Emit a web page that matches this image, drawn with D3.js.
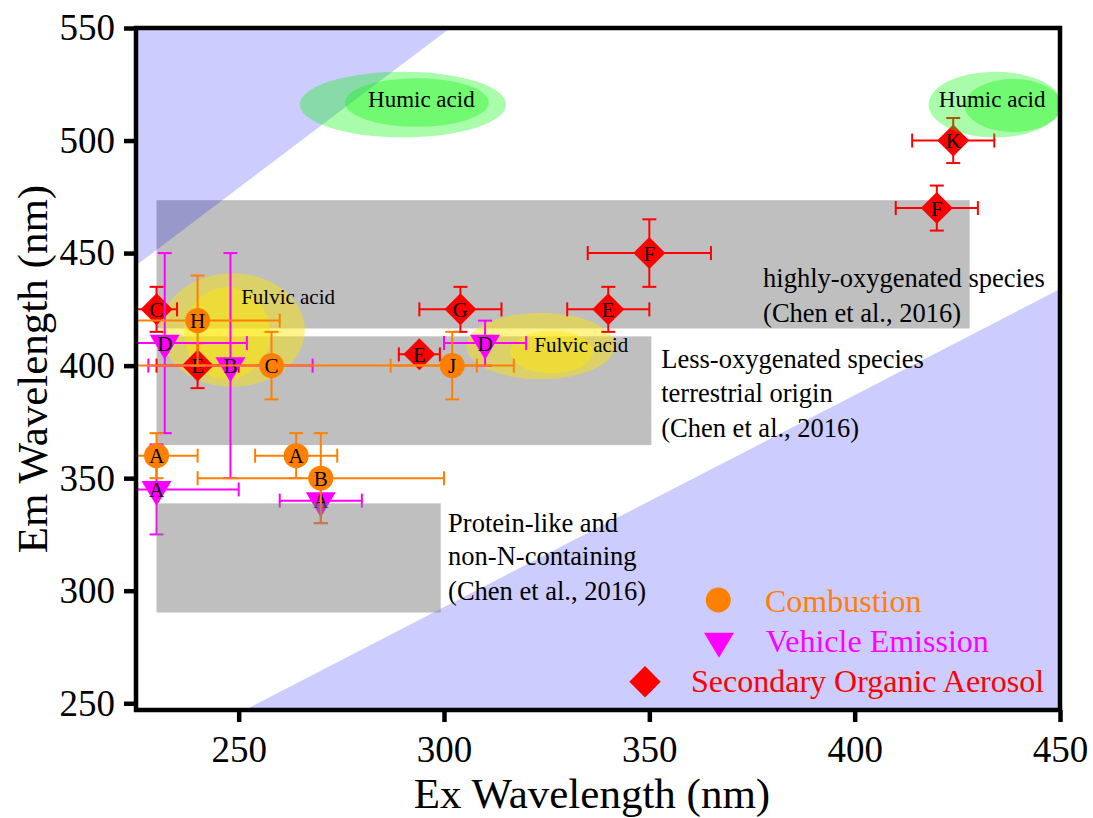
<!DOCTYPE html>
<html>
<head>
<meta charset="utf-8">
<script src="https://cdn.jsdelivr.net/npm/d3@7"></script>
<style>
  html, body { margin: 0; padding: 0; background: #fff; }
  svg { display: block; font-family: "Liberation Serif", "Times New Roman", serif; }
  svg text { font-family: "Liberation Serif", "Times New Roman", serif; }
</style>
</head>
<body>
<svg id="chart" width="1093" height="818"></svg>
<script>
// ---------------- data ----------------
const xDomain = [225, 450];
const yDomain = [247, 550];
const xTickValues = [250, 300, 350, 400, 450];
const yTickValues = [250, 300, 350, 400, 450, 500, 550];
const xTitle = "Ex Wavelength (nm)";
const yTitle = "Em Wavelength (nm)";

// each point: label, Ex, Em, Ex error, Em error
const combustion = [
  { label: "A", ex: 230, em: 360, exErr: 10, emErr: 10 },
  { label: "A", ex: 264, em: 360, exErr: 10, emErr: 10 },
  { label: "B", ex: 270, em: 350, exErr: 30, emErr: 20 },
  { label: "C", ex: 258, em: 400, exErr: 50, emErr: 15 },
  { label: "H", ex: 240, em: 420, exErr: 20, emErr: 20 },
  { label: "J", ex: 302, em: 400, exErr: 15, emErr: 15 }
];
const vehicle = [
  { label: "A", ex: 230, em: 345, exErr: 20, emErr: 20 },
  { label: "A", ex: 270, em: 340, exErr: 10, emErr: 10 },
  { label: "B", ex: 248, em: 400, exErr: 20, emErr: 50 },
  { label: "D", ex: 232, em: 410, exErr: 20, emErr: 40 },
  { label: "D", ex: 310, em: 410, exErr: 10, emErr: 10 }
];
const soa = [
  { label: "C", ex: 230, em: 425, exErr: 5, emErr: 10 },
  { label: "E", ex: 240, em: 400, exErr: 10, emErr: 10 },
  { label: "E", ex: 294, em: 405, exErr: 5, emErr: 2 },
  { label: "G", ex: 304, em: 425, exErr: 10, emErr: 10 },
  { label: "E", ex: 340, em: 425, exErr: 10, emErr: 10 },
  { label: "F", ex: 350, em: 450, exErr: 15, emErr: 15 },
  { label: "F", ex: 420, em: 470, exErr: 10, emErr: 10 },
  { label: "K", ex: 424, em: 500, exErr: 10, emErr: 10 }
];
const seriesNames = ["Combustion", "Vehicle Emission", "Secondary Organic Aerosol"];

// regions (Ex range, Em range)
const regionHighOx = { x0: 230, x1: 428, y0: 416.5, y1: 473.5 };
const regionLessOx = { x0: 230, x1: 350.5, y0: 364.7, y1: 413 };
const regionProtein = { x0: 230, x1: 299.2, y0: 290.3, y1: 338.8 };
const scatterUpper = [[225, 550], [301.5, 550], [225, 444.5]];
const scatterLower = [[251.5, 247], [450, 247], [450, 434]];

// ellipses: centre Ex, Em and radii in data units
const fulvicEllipses = [
  { cx: 248.5, cy: 415.8, rx: 17.6, ry: 25.2 },
  { cx: 247.2, cy: 414.4, rx: 10.5, ry: 20.4 },
  { cx: 323.5, cy: 408.7, rx: 18.1, ry: 14.8 },
  { cx: 326.2, cy: 406.0, rx: 10.1, ry: 9.5 }
];
const humicEllipses = [
  { cx: 290.0, cy: 516.0, rx: 25.1, ry: 14.6 },
  { cx: 293.4, cy: 516.9, rx: 17.5, ry: 10.8 },
  { cx: 434.2, cy: 516.0, rx: 16.2, ry: 14.6 },
  { cx: 438.6, cy: 515.6, rx: 11.8, ry: 11.8 }
];

// annotation texts (anchor in data units)
const ellipseLabels = [
  { text: "Humic acid", ex: 281.5, em: 515.0, size: 23 },
  { text: "Humic acid", ex: 420.5, em: 515.0, size: 23 },
  { text: "Fulvic acid", ex: 250.6, em: 427.3, size: 21 },
  { text: "Fulvic acid", ex: 322.0, em: 406.1, size: 21 }
];
const regionLabels = [
  { lines: ["highly-oxygenated species", "(Chen et al., 2016)"], ex: 377.7, em: [435.0, 419.5] },
  { lines: ["Less-oxygenated species", "terrestrial origin", "(Chen et al., 2016)"], ex: 352.9, em: [398.8, 384.0, 368.4] },
  { lines: ["Protein-like and", "non-N-containing", "(Chen et al., 2016)"], ex: 301.0, em: [326.2, 311.4, 295.8] }
];

// ---------------- drawing ----------------
const W = 1093, H = 818;
const margin = { left: 136, right: 33, top: 28, bottom: 108 };
const svg = d3.select("#chart");
const x = d3.scaleLinear().domain(xDomain).range([margin.left, W - margin.right]);
const y = d3.scaleLinear().domain(yDomain).range([H - margin.bottom, margin.top]);

const colors = { Combustion: "#ff8000", "Vehicle Emission": "#ff00ff", "Secondary Organic Aerosol": "#ff0000" };
const gray = "rgba(128,128,128,0.5)";
const blue = "rgba(0,0,255,0.2)";
const yellow = "rgba(255,230,0,0.45)";
const green = "rgba(10,245,10,0.35)";

svg.append("defs").append("clipPath").attr("id", "plotClip")
  .append("rect")
  .attr("x", x(xDomain[0])).attr("y", y(yDomain[1]))
  .attr("width", x(xDomain[1]) - x(xDomain[0]))
  .attr("height", y(yDomain[0]) - y(yDomain[1]));

const plot = svg.append("g").attr("clip-path", "url(#plotClip)");

function drawRegion(g, r) {
  g.append("rect")
    .attr("x", x(r.x0)).attr("y", y(r.y1))
    .attr("width", x(r.x1) - x(r.x0)).attr("height", y(r.y0) - y(r.y1))
    .attr("fill", gray);
}
drawRegion(plot, regionHighOx);
drawRegion(plot, regionLessOx);

const line = d3.line().x(d => x(d[0])).y(d => y(d[1]));
[scatterUpper, scatterLower].forEach(poly => {
  plot.append("path").attr("d", line(poly) + "Z").attr("fill", blue);
});

function drawEllipses(g, arr, fill) {
  g.selectAll(null).data(arr).enter().append("ellipse")
    .attr("cx", d => x(d.cx)).attr("cy", d => y(d.cy))
    .attr("rx", d => x(d.cx + d.rx) - x(d.cx))
    .attr("ry", d => y(d.cy - d.ry) - y(d.cy))
    .attr("fill", fill);
}
drawEllipses(plot, fulvicEllipses, yellow);

// markers
const circleSym = d3.symbol().type(d3.symbolCircle).size(Math.PI * 12.5 * 12.5);
function triPath(cx, cy) {
  // downward triangle, centroid at (cx, cy): width 30, height 25
  return `M${cx - 15},${cy - 8.33}L${cx + 15},${cy - 8.33}L${cx},${cy + 16.67}Z`;
}
function diamondPath(cx, cy, h) {
  return `M${cx},${cy - h}L${cx + h},${cy}L${cx},${cy + h}L${cx - h},${cy}Z`;
}
const cap = 7;

function drawSeries(data, color, shape) {
  const g = plot.append("g");
  const eb = g.append("g").attr("stroke", color).attr("stroke-width", 2).attr("fill", "none");
  data.forEach(d => {
    const cx = x(d.ex), cy = y(d.em);
    const xl = x(d.ex - d.exErr), xr = x(d.ex + d.exErr);
    const yt = y(d.em + d.emErr), yb = y(d.em - d.emErr);
    eb.append("line").attr("x1", xl).attr("x2", xr).attr("y1", cy).attr("y2", cy);
    eb.append("line").attr("x1", xl).attr("x2", xl).attr("y1", cy - cap).attr("y2", cy + cap);
    eb.append("line").attr("x1", xr).attr("x2", xr).attr("y1", cy - cap).attr("y2", cy + cap);
    eb.append("line").attr("x1", cx).attr("x2", cx).attr("y1", yt).attr("y2", yb);
    eb.append("line").attr("x1", cx - cap).attr("x2", cx + cap).attr("y1", yt).attr("y2", yt);
    eb.append("line").attr("x1", cx - cap).attr("x2", cx + cap).attr("y1", yb).attr("y2", yb);
  });
  data.forEach(d => {
    const cx = x(d.ex), cy = y(d.em);
    if (shape === "circle") {
      g.append("path").attr("d", circleSym()).attr("transform", `translate(${cx},${cy})`).attr("fill", color);
    } else if (shape === "triangle") {
      g.append("path").attr("d", triPath(cx, cy)).attr("fill", color);
    } else {
      g.append("path").attr("d", diamondPath(cx, cy, 16)).attr("fill", color);
    }
    g.append("text").attr("x", cx).attr("y", cy + 7.5)
      .attr("text-anchor", "middle").attr("font-size", 21).attr("fill", "#000")
      .text(d.label);
  });
}
drawSeries(soa, colors["Secondary Organic Aerosol"], "diamond");
drawSeries(vehicle, colors["Vehicle Emission"], "triangle");
drawSeries(combustion, colors["Combustion"], "circle");

drawRegion(plot, regionProtein);
drawEllipses(plot, humicEllipses, green);

// ellipse labels
svg.selectAll(null).data(ellipseLabels).enter().append("text")
  .attr("x", d => x(d.ex)).attr("y", d => y(d.em))
  .attr("font-size", d => d.size).attr("fill", "#000")
  .text(d => d.text);

// region labels
regionLabels.forEach(r => {
  r.lines.forEach((t, i) => {
    svg.append("text").attr("x", x(r.ex)).attr("y", y(r.em[i]))
      .attr("font-size", 26.5).attr("fill", "#000").text(t);
  });
});

// legend
const legend = svg.append("g");
const legendItems = [
  { name: seriesNames[0], mx: 718.3, my: 600, tx: 765, ty: 611.7, shape: "circle" },
  { name: seriesNames[1], mx: 719, my: 641.2, tx: 765.7, ty: 651.7, shape: "triangle" },
  { name: seriesNames[2], mx: 645, my: 681.7, tx: 691, ty: 691.7, shape: "diamond" }
];
legendItems.forEach(it => {
  const c = colors[it.name];
  if (it.shape === "circle") legend.append("circle").attr("cx", it.mx).attr("cy", it.my).attr("r", 12.5).attr("fill", c);
  else if (it.shape === "triangle") legend.append("path").attr("d", triPath(it.mx, it.my)).attr("fill", c);
  else legend.append("path").attr("d", diamondPath(it.mx, it.my, 15.7)).attr("fill", c);
  legend.append("text").attr("x", it.tx).attr("y", it.ty).attr("font-size", 32).attr("fill", c).text(it.name);
});

// axes
const xAxis = d3.axisBottom(x).tickValues(xTickValues).tickSize(12).tickPadding(14).tickFormat(d3.format("d"));
const yAxis = d3.axisLeft(y).tickValues(yTickValues).tickSize(12).tickPadding(9).tickFormat(d3.format("d"));
const gx = svg.append("g").attr("transform", `translate(0,${y(yDomain[0])})`).call(xAxis);
const gy = svg.append("g").attr("transform", `translate(${x(xDomain[0])},0)`).call(yAxis);
[gx, gy].forEach(g => {
  g.attr("font-family", null).attr("font-size", null);
  g.select(".domain").remove();
  g.selectAll(".tick line").attr("stroke", "#000").attr("stroke-width", 4.5);
  g.selectAll(".tick text")
    .style("font-family", '"Liberation Serif", "Times New Roman", serif')
    .style("font-size", "37px").attr("fill", "#000");
});

svg.append("rect")
  .attr("x", x(xDomain[0])).attr("y", y(yDomain[1]))
  .attr("width", x(xDomain[1]) - x(xDomain[0]))
  .attr("height", y(yDomain[0]) - y(yDomain[1]))
  .attr("fill", "none").attr("stroke", "#000").attr("stroke-width", 4.5);

svg.append("text").attr("x", 592).attr("y", 808).attr("text-anchor", "middle")
  .attr("font-size", 43).attr("fill", "#000").text(xTitle);
svg.append("text").attr("transform", `translate(47,${(y(yDomain[0]) + y(yDomain[1])) / 2}) rotate(-90)`)
  .attr("text-anchor", "middle").attr("font-size", 43).attr("fill", "#000").text(yTitle);
</script>
</body>
</html>
